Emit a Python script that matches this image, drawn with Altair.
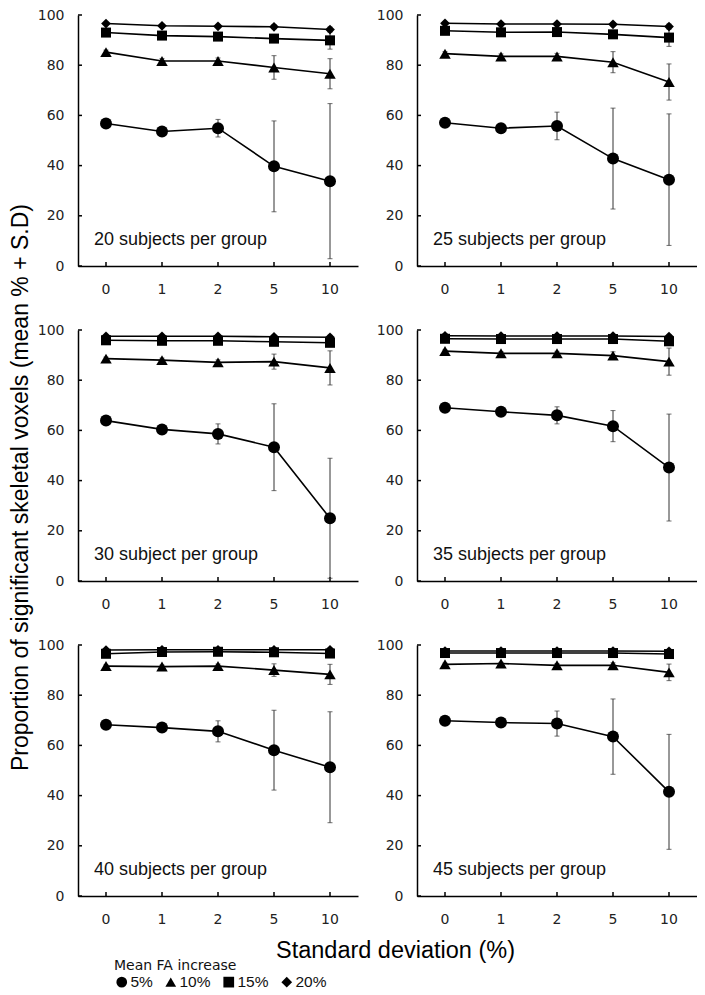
import altair as alt
import pandas as pd

SD_LEVELS = ["0", "1", "2", "5", "10"]
SERIES = ["5%", "10%", "15%", "20%"]
SHAPES = ["circle", "triangle-up", "square", "diamond"]
MARK_SIZES = [144, 132, 100, 95]
Y_TICKS = [0, 20, 40, 60, 80, 100]

PANEL_TEXT = [
    "20 subjects per group", "25 subjects per group",
    "30 subject per group", "35 subjects per group",
    "40 subjects per group", "45 subjects per group",
]

# mean % per series (5%, 10%, 15%, 20%) at SD levels 0,1,2,5,10
MEAN_20 = [[56.8, 53.6, 54.9, 39.7, 33.8],
           [85.2, 81.7, 81.7, 79.1, 76.6],
           [93.0, 91.8, 91.4, 90.6, 89.9],
           [96.6, 95.7, 95.5, 95.3, 94.2]]
SD_20 = [[1.0, 1.5, 3.5, 18.1, 30.9],
         [0.8, 1.0, 1.2, 4.7, 6.0],
         [0.5, 0.6, 0.8, 1.2, 3.5],
         [0.4, 0.5, 0.5, 0.8, 1.0]]

MEAN_25 = [[57.1, 54.9, 55.8, 42.8, 34.4],
           [84.6, 83.5, 83.5, 81.2, 73.3],
           [93.7, 93.1, 93.2, 92.3, 91.0],
           [96.7, 96.4, 96.4, 96.3, 95.4]]
SD_25 = [[1.0, 1.2, 5.5, 20.1, 26.2],
         [0.8, 1.0, 1.2, 4.2, 7.2],
         [0.5, 0.6, 0.7, 1.2, 3.5],
         [0.4, 0.5, 0.5, 0.7, 1.0]]

MEAN_30 = [[63.9, 60.4, 58.6, 53.3, 25.0],
           [88.6, 88.0, 87.1, 87.4, 84.9],
           [95.9, 95.7, 95.7, 95.3, 94.9],
           [97.5, 97.5, 97.5, 97.3, 97.1]]
SD_30 = [[1.0, 1.2, 4.0, 17.3, 23.9],
         [0.6, 0.8, 1.0, 3.0, 6.8],
         [0.4, 0.5, 0.5, 0.8, 1.5],
         [0.3, 0.3, 0.4, 0.5, 0.8]]

MEAN_35 = [[69.0, 67.4, 66.0, 61.7, 45.2],
           [91.6, 90.7, 90.7, 89.8, 87.4],
           [96.5, 96.4, 96.4, 96.4, 95.5],
           [97.7, 97.6, 97.6, 97.6, 97.4]]
SD_35 = [[0.8, 1.0, 3.4, 6.2, 21.3],
         [0.5, 0.7, 0.8, 1.5, 5.4],
         [0.3, 0.4, 0.4, 0.6, 1.2],
         [0.3, 0.3, 0.3, 0.4, 0.6]]

MEAN_40 = [[68.2, 67.1, 65.6, 58.1, 51.3],
           [91.6, 91.4, 91.6, 90.0, 88.3],
           [96.5, 97.2, 97.3, 97.1, 96.6],
           [98.0, 98.1, 98.1, 98.1, 98.1]]
SD_40 = [[0.8, 1.0, 4.2, 15.9, 22.1],
         [0.5, 0.6, 0.8, 2.5, 4.0],
         [0.3, 0.4, 0.4, 0.6, 1.0],
         [0.3, 0.3, 0.3, 0.4, 0.5]]

MEAN_45 = [[69.8, 69.1, 68.7, 63.5, 41.5],
           [92.3, 92.6, 91.9, 91.9, 89.1],
           [96.8, 96.8, 96.8, 96.8, 96.4],
           [97.6, 97.6, 97.6, 97.6, 97.5]]
SD_45 = [[0.8, 1.0, 5.0, 15.0, 22.9],
         [0.5, 0.5, 0.7, 1.0, 3.3],
         [0.3, 0.3, 0.4, 0.5, 0.9],
         [0.3, 0.3, 0.3, 0.3, 0.5]]


def panel_df(means, sds):
    rows = []
    for s, m_list, sd_list in zip(SERIES, means, sds):
        for lvl, m, sd in zip(SD_LEVELS, m_list, sd_list):
            rows.append({"level": lvl, "series": s, "mean": m, "sd": sd})
    return pd.DataFrame(rows)


LABEL_FONT = "DejaVu Sans"
TITLE_FONT = "Liberation Sans"

legend = alt.Legend(
    orient="none", legendX=36, legendY=944, direction="horizontal",
    title="Mean FA increase", titleFont=LABEL_FONT, titleFontSize=14,
    titleFontWeight="normal", titleColor="#111", titlePadding=1,
    labelFont=TITLE_FONT, labelFontSize=15.5, labelColor="#111",
    labelOffset=1, columnPadding=10, symbolSize=115, symbolFillColor="black",
    symbolStrokeWidth=0, padding=0,
)

SHAPE = alt.Shape("series:N", scale=alt.Scale(domain=SERIES, range=SHAPES),
                  legend=legend)


def make_panel(means, sds, label, h, w=280, ytitle=False, xtitle=False):
    df = panel_df(means, sds)
    xaxis = dict(domainColor="black", domainWidth=1.5, ticks=False, tickSize=0,
                 labelAngle=0, labelFont=LABEL_FONT, labelFontSize=14,
                 labelColor="#222", labelPadding=16, grid=False, title=None)
    if xtitle:
        xaxis.update(title="Standard deviation (%)", titleFont=TITLE_FONT,
                     titleFontSize=23.5, titleFontWeight="normal", titleColor="black",
                     titleX=317, titleY=61, titleAlign="center",
                     titleBaseline="alphabetic")
    yaxis = dict(values=Y_TICKS, domainColor="black", domainWidth=1.5, ticks=False,
                 tickSize=0, labelFont=LABEL_FONT, labelFontSize=14,
                 labelColor="#222", labelPadding=14, grid=False, title=None)
    if ytitle:
        yaxis.update(title="Proportion of significant skeletal voxels (mean % + S.D)",
                     titleFont=TITLE_FONT, titleFontSize=23, titleFontWeight="normal",
                     titleColor="black", titleAngle=270, titleX=-51, titleY=157,
                     titleAlign="center", titleBaseline="alphabetic")
    X = alt.X("level:O", sort=SD_LEVELS, scale=alt.Scale(domain=SD_LEVELS),
              axis=alt.Axis(**xaxis))
    Y = alt.Y("mean:Q", scale=alt.Scale(domain=[0, 100], nice=False, zero=True),
              axis=alt.Axis(**yaxis))
    base = alt.Chart(df)
    yticks = alt.Chart(pd.DataFrame({"mean": Y_TICKS})).mark_rule(
        color="black", strokeWidth=1.5).encode(y=Y, x=alt.value(0), x2=alt.value(4))
    xticks = alt.Chart(pd.DataFrame({"level": SD_LEVELS})).mark_rule(
        color="black", strokeWidth=1.5).encode(x=X, y=alt.value(h), y2=alt.value(h - 4))
    err = base.mark_errorbar(ticks=True, size=5, thickness=1, color="#333").encode(
        x=X, y=Y, yError="sd:Q")
    line = base.mark_line(color="black", strokeWidth=1.6).encode(
        x=X, y=Y, detail="series:N")
    pts = [
        base.transform_filter(alt.datum.series == s).mark_point(
            filled=True, opacity=1, color="black", size=sz).encode(x=X, y=Y, shape=SHAPE)
        for s, sz in zip(SERIES, MARK_SIZES)
    ]
    txt = alt.Chart(pd.DataFrame({"label": [label]})).mark_text(
        align="left", baseline="alphabetic", font=TITLE_FONT, fontSize=18,
        color="#111").encode(x=alt.value(16), y=alt.value(h - 21), text="label:N")
    return alt.layer(yticks, xticks, err, line, *pts, txt).properties(width=w, height=h)


p1 = make_panel(MEAN_20, SD_20, PANEL_TEXT[0], 251)
p2 = make_panel(MEAN_25, SD_25, PANEL_TEXT[1], 251)
p3 = make_panel(MEAN_30, SD_30, PANEL_TEXT[2], 251, ytitle=True)
p4 = make_panel(MEAN_35, SD_35, PANEL_TEXT[3], 251)
p5 = make_panel(MEAN_40, SD_40, PANEL_TEXT[4], 251, xtitle=True)
p6 = make_panel(MEAN_45, SD_45, PANEL_TEXT[5], 251)

chart = alt.concat(p1, p2, p3, p4, p5, p6, columns=2, bounds="flush",
                   spacing={"row": 64, "column": 59}).resolve_scale(
    shape="shared").configure_view(stroke=None).properties(
    padding={"left": 0, "top": 0, "right": 0, "bottom": 0})

chart.save("out.html", embed_options={"renderer": "svg", "actions": False})
